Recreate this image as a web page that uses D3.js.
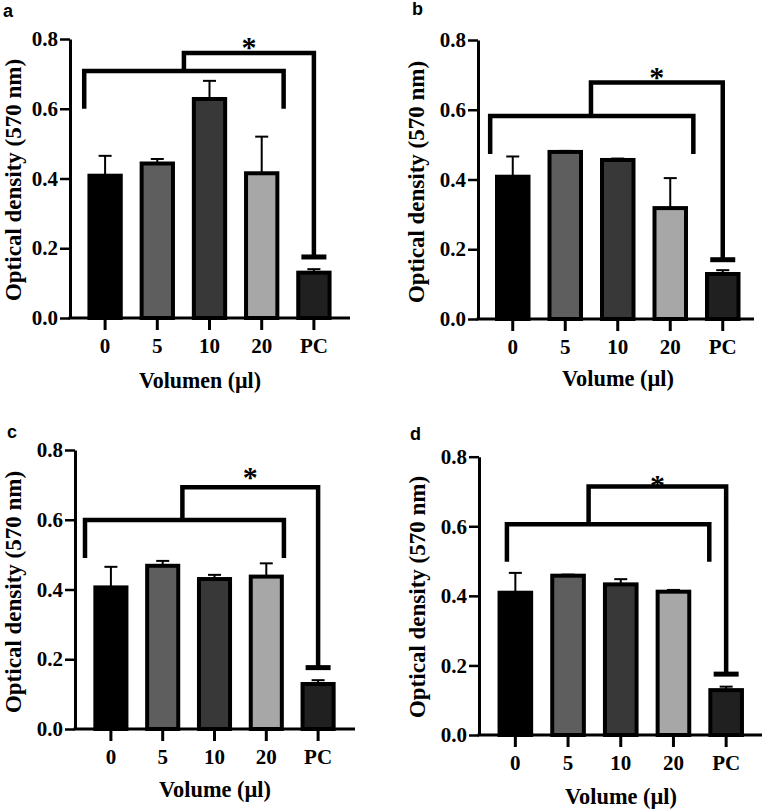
<!DOCTYPE html>
<html><head><meta charset="utf-8">
<script src="https://cdn.jsdelivr.net/npm/d3@7"></script>
<style>
html,body{margin:0;padding:0;background:#fff;}
svg{display:block;}
</style></head>
<body>
<svg id="chart" width="762" height="809"></svg>
<script>
// ---------- data ----------
const categories = ["0", "5", "10", "20", "PC"];
const yTicks = [0, 0.2, 0.4, 0.6, 0.8];
const barColors = ["#000000", "#5e5e5e", "#383838", "#a7a7a7", "#202020"];

const meansA = [0.408, 0.443, 0.628, 0.415, 0.130];
const errA   = [0.057, 0.013, 0.052, 0.105, 0.010];
const meansB = [0.408, 0.479, 0.456, 0.318, 0.129];
const errB   = [0.058, 0.003, 0.004, 0.086, 0.011];
const meansC = [0.406, 0.468, 0.430, 0.437, 0.129];
const errC   = [0.059, 0.014, 0.012, 0.038, 0.011];
const meansD = [0.409, 0.458, 0.433, 0.412, 0.129];
const errD   = [0.057, 0.003, 0.015, 0.005, 0.010];

// significance brackets (y in data units; x as category index)
const bracketA = {legY: 0.600, barY: 0.708, topY: 0.760, pcY: 0.175, left: -0.40, right: 3.42, mid: 1.51, starY: 0.803};
const bracketB = {legY: 0.473, barY: 0.582, topY: 0.678, pcY: 0.170, left: -0.43, right: 3.44, mid: 1.49, starY: 0.720};
const bracketC = {legY: 0.490, barY: 0.599, topY: 0.693, pcY: 0.176, left: -0.50, right: 3.34, mid: 1.38, starY: 0.747};
const bracketD = {legY: 0.498, barY: 0.606, topY: 0.714, pcY: 0.175, left: -0.16, right: 3.68, mid: 1.39, starY: 0.742};

const panels = [
  {letter:"a", xTitle:"Volumen (µl)", means:meansA, errs:errA, br:bracketA,
   axisX:70, yTop:39, yBot:318, bandL:79, bandR:340, axisEnd:350,
   letterX:3, letterY:17, ytX:20.5, ytY:180, xtX:200, xtY:388},
  {letter:"b", xTitle:"Volume (µl)", means:meansB, errs:errB, br:bracketB,
   axisX:478, yTop:40, yBot:319, bandL:486.5, bandR:749, axisEnd:754,
   letterX:412, letterY:15, ytX:424, ytY:182, xtX:618, xtY:386},
  {letter:"c", xTitle:"Volume (µl)", means:meansC, errs:errC, br:bracketC,
   axisX:75, yTop:450, yBot:729, bandL:85, bandR:344, axisEnd:355,
   letterX:7, letterY:438, ytX:21, ytY:592, xtX:215, xtY:797},
  {letter:"d", xTitle:"Volume (µl)", means:meansD, errs:errD, br:bracketD,
   axisX:479, yTop:456.7, yBot:735, bandL:489, bandR:752.5, axisEnd:762,
   letterX:410, letterY:440, ytX:425, ytY:597, xtX:621, xtY:804}
];

const svg = d3.select("#chart");
const serif = "'Liberation Serif','Times New Roman',serif";

panels.forEach(p => {
  const g = svg.append("g");
  const y = d3.scaleLinear().domain([0, 0.8]).range([p.yBot, p.yTop]);
  const x = d3.scaleBand().domain(categories).range([p.bandL, p.bandR])
              .paddingInner(0.4).paddingOuter(0.2);
  const cx = c => x(c) + x.bandwidth() / 2;
  const xi = d3.scaleLinear().domain([0, 4]).range([cx(categories[0]), cx(categories[4])]);

  // bars
  g.selectAll("rect.bar").data(categories).join("rect")
    .attr("class", "bar")
    .attr("x", c => x(c))
    .attr("width", x.bandwidth())
    .attr("y", (c, i) => y(p.means[i]))
    .attr("height", (c, i) => y(0) - y(p.means[i]))
    .attr("fill", (c, i) => barColors[i])
    .attr("stroke", "#000").attr("stroke-width", 4);

  // error bars (upper only)
  categories.forEach((c, i) => {
    const top = y(p.means[i] + p.errs[i]);
    g.append("line").attr("x1", cx(c)).attr("x2", cx(c))
      .attr("y1", y(p.means[i])).attr("y2", top)
      .attr("stroke", "#000").attr("stroke-width", 2);
    g.append("line").attr("x1", cx(c) - 6.5).attr("x2", cx(c) + 6.5)
      .attr("y1", top).attr("y2", top)
      .attr("stroke", "#000").attr("stroke-width", 2);
  });

  // y axis
  const ya = g.append("g").attr("transform", `translate(${p.axisX},0)`)
    .call(d3.axisLeft(y).tickValues(yTicks).tickFormat(d3.format(".1f"))
          .tickSize(10).tickPadding(2).tickSizeOuter(0));
  ya.select(".domain").attr("stroke-width", 3).attr("stroke", "#000");
  ya.selectAll(".tick line").attr("stroke-width", 2.5).attr("stroke", "#000");
  ya.selectAll(".tick text").attr("font-family", serif).attr("font-weight", "bold")
    .attr("font-size", 21).attr("fill", "#000");

  // x axis
  const xa = g.append("g").attr("transform", `translate(0,${p.yBot})`)
    .call(d3.axisBottom(x).tickSize(12).tickPadding(8).tickSizeOuter(0));
  xa.select(".domain").remove();
  xa.selectAll(".tick line").attr("stroke-width", 3).attr("stroke", "#000");
  xa.selectAll(".tick text").attr("font-family", serif).attr("font-weight", "bold")
    .attr("font-size", 21).attr("fill", "#000");
  g.append("line").attr("x1", p.axisX - 1.5).attr("x2", p.axisEnd)
    .attr("y1", p.yBot).attr("y2", p.yBot)
    .attr("stroke", "#000").attr("stroke-width", 3);

  // significance bracket
  const b = p.br;
  const lw = 4.5;
  g.append("path")
    .attr("d", `M${xi(b.left)},${y(b.legY)} V${y(b.barY)} H${xi(b.right)} V${y(b.legY)}`)
    .attr("fill", "none").attr("stroke", "#000").attr("stroke-width", lw)
    .attr("stroke-linejoin", "miter").attr("stroke-linecap", "butt");
  g.append("path")
    .attr("d", `M${xi(b.mid)},${y(b.barY)} V${y(b.topY)} H${xi(4)} V${y(b.pcY)}`)
    .attr("fill", "none").attr("stroke", "#000").attr("stroke-width", lw)
    .attr("stroke-linejoin", "miter").attr("stroke-linecap", "butt");
  g.append("line").attr("x1", xi(4) - 12.5).attr("x2", xi(4) + 12.5)
    .attr("y1", y(b.pcY)).attr("y2", y(b.pcY))
    .attr("stroke", "#000").attr("stroke-width", 5);
  g.append("text").attr("x", (xi(b.mid) + xi(4)) / 2).attr("y", y(b.starY))
    .attr("dy", "0.62em").attr("text-anchor", "middle")
    .attr("font-family", serif).attr("font-weight", "bold").attr("font-size", 30)
    .text("*");

  // titles
  g.append("text").attr("x", p.xtX).attr("y", p.xtY).attr("text-anchor", "middle")
    .attr("font-family", serif).attr("font-weight", "bold").attr("font-size", 23)
    .attr("textLength", p.letter === "a" ? 122 : 112).attr("lengthAdjust", "spacingAndGlyphs")
    .text(p.xTitle);
  g.append("text").attr("transform", `translate(${p.ytX},${p.ytY}) rotate(-90)`)
    .attr("text-anchor", "middle")
    .attr("font-family", serif).attr("font-weight", "bold").attr("font-size", 23)
    .text("Optical density (570 nm)");
  g.append("text").attr("x", p.letterX).attr("y", p.letterY)
    .attr("font-family", "'Liberation Sans',Arial,sans-serif").attr("font-weight", "bold")
    .attr("font-size", 18).text(p.letter);
});
</script>
</body></html>
